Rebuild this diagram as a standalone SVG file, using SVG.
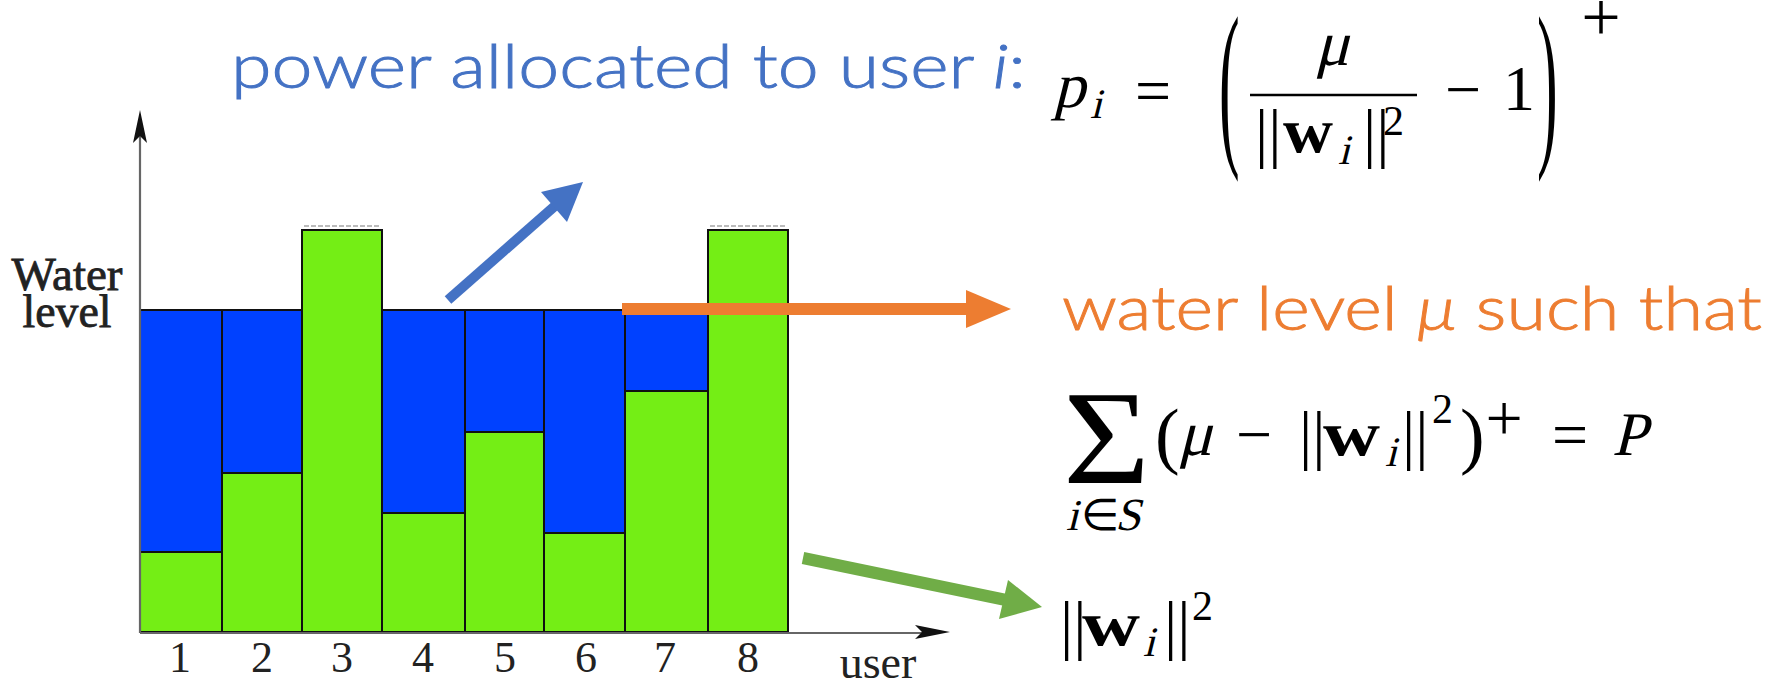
<svg xmlns="http://www.w3.org/2000/svg" width="1781" height="685" viewBox="0 0 1781 685">
  <style>
    .water { fill: #0041FF; stroke: #111; stroke-width: 2; }
    .floor { fill: #74EE15; stroke: #111; stroke-width: 2; }
    .axis { stroke: #666; stroke-width: 2.2; fill: none; }
    .axhead { fill: #111; }
    .tick { font-family: "Liberation Serif", serif; font-size: 44px; fill: #222; text-anchor: middle; }
    .caption { font-family: Lato, "DejaVu Sans", sans-serif; font-weight: 300; font-size: 62px; stroke-width: 0.9; }
    .m { font-family: "Liberation Serif", serif; fill: #000; }
    .bf { font-weight: bold; }
  </style>

  <!-- water-filling chart -->
  <g id="chart">
    <!-- users 1..8: blue = allocated power above the floor, green = floor ||w_i||^2 -->
    <g id="bar1"><rect class="water" x="140" y="310" width="82" height="242"/><rect class="floor" x="140" y="552" width="82" height="80"/></g>
    <g id="bar2"><rect class="water" x="222" y="310" width="80" height="163"/><rect class="floor" x="222" y="473" width="80" height="159"/></g>
    <g id="bar3"><rect class="floor" x="302" y="230" width="80" height="402"/></g>
    <g id="bar4"><rect class="water" x="382" y="310" width="83" height="203"/><rect class="floor" x="382" y="513" width="83" height="119"/></g>
    <g id="bar5"><rect class="water" x="465" y="310" width="79" height="122"/><rect class="floor" x="465" y="432" width="79" height="200"/></g>
    <g id="bar6"><rect class="water" x="544" y="310" width="81" height="223"/><rect class="floor" x="544" y="533" width="81" height="99"/></g>
    <g id="bar7"><rect class="water" x="625" y="310" width="83" height="81"/><rect class="floor" x="625" y="391" width="83" height="241"/></g>
    <g id="bar8"><rect class="floor" x="708" y="230" width="80" height="402"/></g>
    <!-- faint dotted caps above the tall bars -->
    <line x1="304" y1="226" x2="381" y2="226" stroke="#bbb" stroke-width="2" stroke-dasharray="5 2"/>
    <line x1="710" y1="226" x2="787" y2="226" stroke="#bbb" stroke-width="2" stroke-dasharray="5 2"/>

    <!-- axes -->
    <g id="axes">
      <line class="axis" x1="140" y1="633" x2="140" y2="130"/>
      <polygon class="axhead" points="140,110 147,143 140,136 133,143"/>
      <line class="axis" x1="140" y1="633" x2="930" y2="633"/>
      <polygon class="axhead" points="950,632 915,625 922,632 915,639"/>
    </g>

    <!-- tick labels -->
    <g id="ticks">
      <text class="tick" x="180" y="672">1</text>
      <text class="tick" x="262" y="672">2</text>
      <text class="tick" x="342" y="672">3</text>
      <text class="tick" x="423" y="672">4</text>
      <text class="tick" x="505" y="672">5</text>
      <text class="tick" x="586" y="672">6</text>
      <text class="tick" x="665" y="672">7</text>
      <text class="tick" x="748" y="672">8</text>
    </g>
    <text id="xlabel" class="tick" x="878" y="678" style="font-size:46px">user</text>
    <g id="ylabel">
      <text class="tick" x="67" y="290" style="font-size:46px" stroke="#222" stroke-width="0.8" textLength="111" lengthAdjust="spacingAndGlyphs">Water</text>
      <text class="tick" x="67" y="327" style="font-size:46px" stroke="#222" stroke-width="0.8" textLength="89" lengthAdjust="spacingAndGlyphs">level</text>
    </g>
  </g>

  <!-- connectors -->
  <g id="connectors">
    <g id="arrow-power">
      <line x1="448" y1="300" x2="556" y2="205" stroke="#4472C4" stroke-width="10"/>
      <polygon points="583,182 567,222 541,192" fill="#4472C4"/>
    </g>
    <g id="arrow-level">
      <line x1="622" y1="309" x2="972" y2="309" stroke="#ED7D31" stroke-width="12"/>
      <polygon points="1011,309 966,290 966,328" fill="#ED7D31"/>
    </g>
    <g id="arrow-floor">
      <line x1="803" y1="558" x2="1006" y2="600" stroke="#70AD47" stroke-width="12"/>
      <polygon points="1042,607 999,619 1008,580" fill="#70AD47"/>
    </g>
  </g>

  <!-- caption: power allocated to user i -->
  <g id="power-label">
    <text class="caption" x="231" y="88" fill="#4472C4" stroke="#4472C4" textLength="795" lengthAdjust="spacingAndGlyphs">power allocated to user <tspan font-style="italic">i</tspan>:</text>
  </g>

  <!-- p_i = ( mu / ||w_i||^2 - 1 )^+   (math italics are slanted upright serif glyphs) -->
  <g id="power-formula">
    <text class="m" transform="translate(1053,107) skewX(-14)" style="font-size:64px">p</text>
    <text class="m" transform="translate(1090,118) skewX(-14)" style="font-size:42px">i</text>
    <text class="m" x="1153" y="112" text-anchor="middle" style="font-size:64px">=</text>
    <text class="m" transform="translate(1219,143) scale(1,2.95)" style="font-size:62px">(</text>
    <text class="m" transform="translate(1315,65) skewX(-14)" style="font-size:64px">μ</text>
    <line x1="1250" y1="95" x2="1417" y2="95" stroke="#000" stroke-width="2.5"/>
    <text class="m" x="1255" y="155" style="font-size:66px">||</text>
    <text class="m bf" x="1283" y="152" style="font-size:64px" textLength="50" lengthAdjust="spacingAndGlyphs">w</text>
    <text class="m" transform="translate(1338,164) skewX(-14)" style="font-size:42px">i</text>
    <text class="m" x="1363" y="155" style="font-size:66px">||</text>
    <text class="m" x="1383" y="135" style="font-size:42px">2</text>
    <text class="m" x="1463" y="111" text-anchor="middle" style="font-size:64px">−</text>
    <text class="m" x="1519" y="110" text-anchor="middle" style="font-size:64px">1</text>
    <text class="m" transform="translate(1537,143) scale(1,2.95)" style="font-size:62px">)</text>
    <text class="m" x="1601" y="41" text-anchor="middle" style="font-size:70px">+</text>
  </g>

  <!-- caption: water level mu such that -->
  <g id="level-label">
    <text class="caption" x="1062" y="330" fill="#ED7D31" stroke="#ED7D31" textLength="700" lengthAdjust="spacingAndGlyphs">water level <tspan font-style="italic">μ</tspan> such that</text>
  </g>

  <!-- sum_{i in S} (mu - ||w_i||^2)^+ = P -->
  <g id="power-constraint">
    <text class="m" x="1063" y="483" style="font-size:133px" textLength="87" lengthAdjust="spacingAndGlyphs">Σ</text>
    <text class="m" transform="translate(1066,530) skewX(-14)" style="font-size:44px">i</text>
    <text class="m" x="1081" y="530" style="font-size:44px">∈</text>
    <text class="m" transform="translate(1115,530) skewX(-14)" style="font-size:46px">S</text>
    <text class="m" x="1155" y="460" style="font-size:74px">(</text>
    <text class="m" transform="translate(1178,455) skewX(-14)" style="font-size:64px">μ</text>
    <text class="m" x="1254" y="456" text-anchor="middle" style="font-size:64px">−</text>
    <text class="m" x="1299" y="457" style="font-size:66px">||</text>
    <text class="m bf" x="1323" y="455" style="font-size:64px" textLength="57" lengthAdjust="spacingAndGlyphs">w</text>
    <text class="m" transform="translate(1385,466) skewX(-14)" style="font-size:42px">i</text>
    <text class="m" x="1402" y="457" style="font-size:66px">||</text>
    <text class="m" x="1432" y="423" style="font-size:42px">2</text>
    <text class="m" x="1460" y="460" style="font-size:74px">)</text>
    <text class="m" x="1504" y="440" text-anchor="middle" style="font-size:66px">+</text>
    <text class="m" x="1570" y="456" text-anchor="middle" style="font-size:64px">=</text>
    <text class="m" transform="translate(1612,455) skewX(-14)" style="font-size:62px">P</text>
  </g>

  <!-- ||w_i||^2 -->
  <g id="floor-label">
    <text class="m" x="1060" y="647" style="font-size:66px">||</text>
    <text class="m bf" x="1082" y="645" style="font-size:64px" textLength="58" lengthAdjust="spacingAndGlyphs">w</text>
    <text class="m" transform="translate(1143,656) skewX(-14)" style="font-size:42px">i</text>
    <text class="m" x="1164" y="647" style="font-size:66px">||</text>
    <text class="m" x="1192" y="620" style="font-size:42px">2</text>
  </g>
</svg>
